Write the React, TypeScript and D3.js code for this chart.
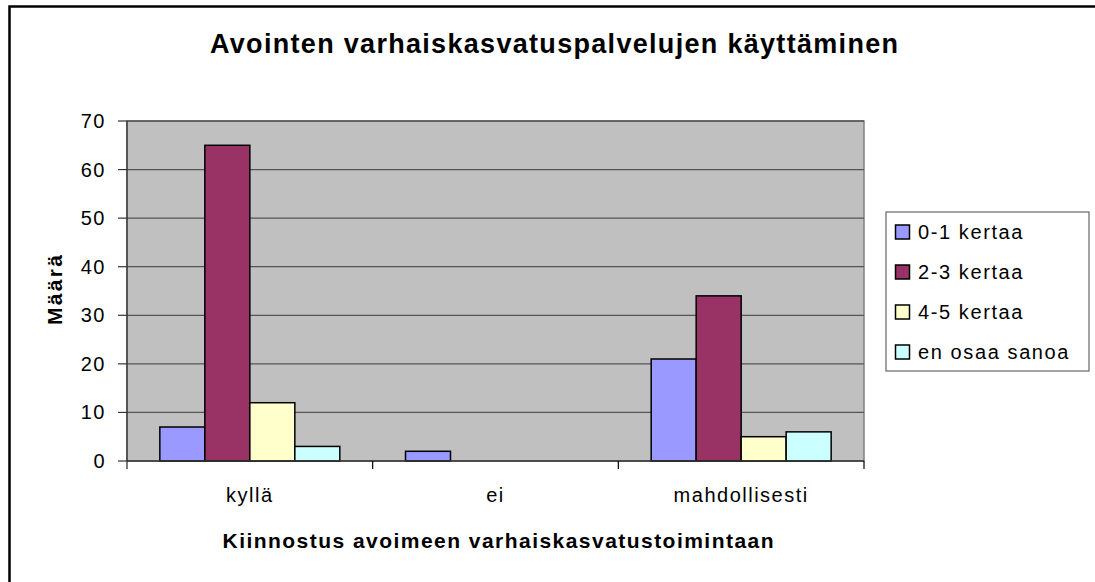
import React from "react";
import * as d3 from "d3";

const categories = ["kyllä", "ei", "mahdollisesti"];
const seriesNames = ["0-1 kertaa", "2-3 kertaa", "4-5 kertaa", "en osaa sanoa"];
const seriesColors = ["#9999FF", "#993366", "#FFFFCC", "#CCFFFF"];
// values per series, in category order
const s01 = [7, 2, 21];
const s23 = [65, 0, 34];
const s45 = [12, 0, 5];
const sEos = [3, 0, 6];
const yTicks = [0, 10, 20, 30, 40, 50, 60, 70];

const seriesValues = [s01, s23, s45, sEos];
const font = "'Liberation Sans', Arial, sans-serif";

const App = () => {
  const W = 1095;
  const H = 582;
  const plot = { left: 127, right: 864, top: 121, bottom: 461 };

  const x0 = d3.scaleBand<string>().domain(categories).range([plot.left, plot.right]);
  const x1 = d3
    .scaleBand<string>()
    .domain(seriesNames)
    .range([0, x0.bandwidth()])
    .paddingInner(0)
    .paddingOuter(0.73);
  const y = d3.scaleLinear().domain([0, 70]).range([plot.bottom, plot.top]);

  const legend = { x: 886, y: 212, w: 203, h: 159 };

  return (
    <svg
      width={W}
      height={H}
      style={{ position: "absolute", left: 0, top: 0, background: "#fff" }}
      fontFamily={font}
    >
      {/* outer frame */}
      <rect x={9.5} y={6.5} width={W + 20} height={H + 20} fill="none" stroke="#000" strokeWidth={2.5} />

      <text
        x={554}
        y={53}
        textAnchor="middle"
        fontSize={27}
        fontWeight="bold"
        textLength={688}
        lengthAdjust="spacing"
      >
        Avointen varhaiskasvatuspalvelujen käyttäminen
      </text>

      {/* plot area */}
      <rect
        x={plot.left}
        y={plot.top}
        width={plot.right - plot.left}
        height={plot.bottom - plot.top}
        fill="#C0C0C0"
        stroke="#808080"
        strokeWidth={1.5}
      />
      {yTicks.map((t) => (
        <g key={t}>
          {t > 0 && (
            <line x1={plot.left} x2={plot.right} y1={y(t)} y2={y(t)} stroke="#555" strokeWidth={1.3} />
          )}
          <line x1={plot.left - 9} x2={plot.left} y1={y(t)} y2={y(t)} stroke="#333" strokeWidth={1.2} />
          <text x={106} y={y(t) + 7} textAnchor="end" fontSize={20} letterSpacing={1.5}>
            {t}
          </text>
        </g>
      ))}

      {/* bars */}
      {categories.map((c, ci) => (
        <g key={c} transform={`translate(${x0(c)},0)`}>
          {seriesNames.map((s, si) => {
            const v = seriesValues[si][ci];
            if (!v) return null;
            return (
              <rect
                key={s}
                x={x1(s)}
                y={y(v)}
                width={x1.bandwidth()}
                height={y(0) - y(v)}
                fill={seriesColors[si]}
                stroke="#000"
                strokeWidth={1.5}
              />
            );
          })}
        </g>
      ))}

      {/* axes */}
      <line x1={plot.left} x2={plot.left} y1={plot.top} y2={plot.bottom + 8} stroke="#333" strokeWidth={1.3} />
      <line x1={plot.left} x2={plot.right} y1={plot.bottom} y2={plot.bottom} stroke="#333" strokeWidth={1.5} />
      {categories.map((c) => (
        <line
          key={c}
          x1={(x0(c) as number) + x0.bandwidth()}
          x2={(x0(c) as number) + x0.bandwidth()}
          y1={plot.bottom}
          y2={plot.bottom + 8}
          stroke="#000"
          strokeWidth={1.2}
        />
      ))}
      {categories.map((c) => (
        <text
          key={c}
          x={(x0(c) as number) + x0.bandwidth() / 2}
          y={502}
          textAnchor="middle"
          fontSize={20}
          letterSpacing={1.5}
        >
          {c}
        </text>
      ))}

      <text
        x={498}
        y={548}
        textAnchor="middle"
        fontSize={21}
        fontWeight="bold"
        textLength={551}
        lengthAdjust="spacing"
      >
        Kiinnostus avoimeen varhaiskasvatustoimintaan
      </text>
      <text
        transform={`translate(62,290) rotate(-90)`}
        textAnchor="middle"
        fontSize={21}
        fontWeight="bold"
        textLength={70}
        lengthAdjust="spacing"
      >
        Määrä
      </text>

      {/* legend */}
      <rect x={legend.x} y={legend.y} width={legend.w} height={legend.h} fill="#fff" stroke="#666" strokeWidth={1.2} />
      {seriesNames.map((s, i) => {
        const cy = 232 + i * 40;
        return (
          <g key={s}>
            <rect x={895.5} y={cy - 7} width={14} height={14} fill={seriesColors[i]} stroke="#000" strokeWidth={1.5} />
            <text x={918} y={cy + 7} fontSize={20} letterSpacing={1.6}>
              {s}
            </text>
          </g>
        );
      })}
    </svg>
  );
};

export default App;
